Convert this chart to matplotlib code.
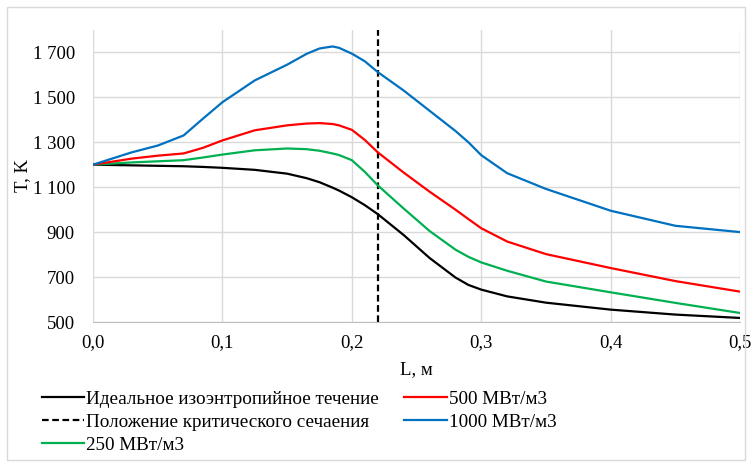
import matplotlib
matplotlib.use("Agg")
import matplotlib.pyplot as plt
from matplotlib.patches import Rectangle
from matplotlib.ticker import FuncFormatter

plt.rcParams["font.family"] = ["Liberation Serif", "DejaVu Serif"]

# L, m (shared sampling grid for all curves)
L = [0.0, 0.03, 0.05, 0.07, 0.085, 0.1, 0.125, 0.15, 0.165, 0.175, 0.185, 0.19,
     0.2, 0.21, 0.22, 0.24, 0.26, 0.28, 0.29, 0.3, 0.32, 0.35, 0.4, 0.45, 0.5]

T_ideal = [1200, 1197, 1195, 1193, 1190, 1186, 1177, 1160, 1140, 1122, 1098, 1085,
           1055, 1020, 980, 887, 785, 698, 665, 644, 614, 586, 555, 533, 518]
T_500 = [1200, 1227, 1240, 1250, 1275, 1308, 1353, 1375, 1383, 1385, 1381, 1375,
         1355, 1310, 1255, 1165, 1080, 1000, 958, 917, 858, 802, 740, 682, 635]
T_1000 = [1200, 1255, 1285, 1330, 1405, 1478, 1575, 1645, 1693, 1717, 1726, 1720,
          1694, 1660, 1612, 1530, 1440, 1350, 1300, 1242, 1162, 1092, 995, 928, 900]
T_250 = [1200, 1210, 1215, 1220, 1232, 1245, 1264, 1272, 1269, 1262, 1250, 1243,
         1220, 1168, 1108, 1005, 905, 822, 790, 765, 728, 680, 632, 585, 540]

L_crit = 0.22

x_ticks = [0.0, 0.1, 0.2, 0.3, 0.4, 0.5]
y_ticks = [500, 700, 900, 1100, 1300, 1500, 1700]

fig = plt.figure(figsize=(7.53, 4.66), dpi=100)
ax = fig.add_axes([0.1235, 0.309, 0.8595, 0.627])

lw = 1.6
ax.plot(L, T_ideal, color="black", lw=lw, label="Идеальное изоэнтропийное течение")
ax.axvline(L_crit, color="black", lw=lw, ls=(0, (3, 1.6)),
           label="Положение критического сечаения")
ax.plot(L, T_250, color="#00B050", lw=lw, label="250 МВт/м3")
ax.plot(L, T_500, color="#FF0000", lw=lw, label="500 МВт/м3")
ax.plot(L, T_1000, color="#0070C0", lw=lw, label="1000 МВт/м3")

ax.set_xlim(0, 0.5)
ax.set_ylim(500, 1800)
ax.set_xticks(x_ticks)
ax.set_yticks(y_ticks)
ax.xaxis.set_major_formatter(FuncFormatter(lambda v, p: f"{v:.1f}".replace(".", ",")))
ax.yaxis.set_major_formatter(FuncFormatter(lambda v, p: f"{int(v):,}".replace(",", " ")))
ax.tick_params(length=0, labelsize=13.5)
ax.tick_params(axis="y", pad=13)
ax.tick_params(axis="x", pad=9)
ax.grid(True, color="#D9D9D9", lw=1)
ax.set_axisbelow(True)
for side in ["top", "right", "left"]:
    ax.spines[side].set_visible(False)
ax.spines["bottom"].set_color("#BFBFBF")

ax.set_xlabel("L, м", fontsize=13.5, labelpad=7)
ax.set_ylabel("T, K", fontsize=13.5, labelpad=1)

ax.legend(ncol=2, loc="upper left", bbox_to_anchor=(-0.091, -0.208), frameon=False,
          fontsize=13.8, handlelength=2.2, handletextpad=0.1, columnspacing=1.35,
          labelspacing=0.3, borderaxespad=0)

fig.patches.append(Rectangle((0.009, 0.012), 0.98, 0.973, transform=fig.transFigure,
                             fill=False, edgecolor="#D9D9D9", lw=1))

fig.savefig("out.png", dpi=100)
